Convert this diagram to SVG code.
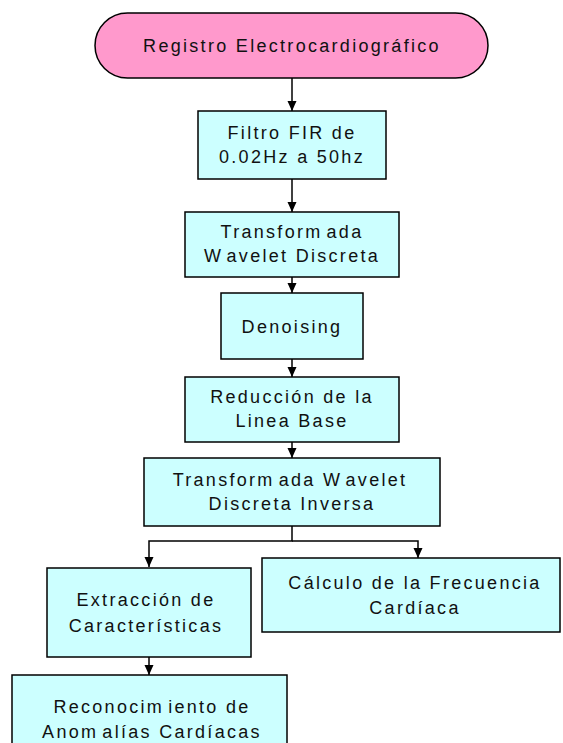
<svg xmlns="http://www.w3.org/2000/svg" width="563" height="743" viewBox="0 0 563 743">
<defs>
<marker id="ah" viewBox="0 0 10 10" refX="10" refY="5" markerWidth="10" markerHeight="10" markerUnits="userSpaceOnUse" orient="auto">
<path d="M0,0.5 L10,5 L0,9.5 Z" fill="#000"/>
</marker>
<style>
.box{fill:#CCFFFF;stroke:#000;stroke-width:1.5}
.pill{fill:#FF99CC;stroke:#000;stroke-width:1.5}
.t{font-family:"Liberation Sans",Arial,sans-serif;font-size:18px;letter-spacing:2.3px;fill:#111;text-anchor:middle}
.c{fill:none;stroke:#000;stroke-width:1.5}
</style>
</defs>
<rect width="563" height="743" fill="#fff"/>
<g id="connectors">
<path class="c" d="M292,78 V111" marker-end="url(#ah)"/>
<path class="c" d="M292,179 V212" marker-end="url(#ah)"/>
<path class="c" d="M292,277 V293" marker-end="url(#ah)"/>
<path class="c" d="M292,359 V377" marker-end="url(#ah)"/>
<path class="c" d="M292,442 V458" marker-end="url(#ah)"/>
<path class="c" d="M292,526 V541 H149 V567" marker-end="url(#ah)"/>
<path class="c" d="M292,541 H418 V558" marker-end="url(#ah)"/>
<path class="c" d="M149,657 V675" marker-end="url(#ah)"/>
</g>
<g id="n0">
<rect class="pill" x="95" y="13" width="393" height="65" rx="32.5"/>
<text class="t" x="292" y="52">Registro Electrocardiográfico</text>
</g>
<g id="n1">
<rect class="box" x="198" y="111" width="188" height="68"/>
<text class="t" x="292" y="139">Filtro FIR de</text>
<text class="t" x="292" y="163">0.02Hz a 50hz</text>
</g>
<g id="n2">
<rect class="box" x="185" y="212" width="214" height="65"/>
<text class="t" x="292" y="238">Transform<tspan dx="4">ada</tspan></text>
<text class="t" x="292" y="262">W<tspan dx="4">avelet Discreta</tspan></text>
</g>
<g id="n3">
<rect class="box" x="221" y="293" width="142" height="66"/>
<text class="t" x="292" y="333">Denoising</text>
</g>
<g id="n4">
<rect class="box" x="185" y="377" width="214" height="65"/>
<text class="t" x="292" y="403">Reducción de la</text>
<text class="t" x="292" y="427">Linea Base</text>
</g>
<g id="n5">
<rect class="box" x="144" y="458" width="296" height="68"/>
<text class="t" x="290" y="486">Transform<tspan dx="4">ada W</tspan><tspan dx="4">avelet</tspan></text>
<text class="t" x="292" y="510">Discreta Inversa</text>
</g>
<g id="n6">
<rect class="box" x="47" y="568" width="204" height="89"/>
<text class="t" x="146" y="606">Extracción de</text>
<text class="t" x="146" y="632">Características</text>
</g>
<g id="n7">
<rect class="box" x="262" y="558" width="298" height="74"/>
<text class="t" x="415" y="589">Cálculo de la Frecuencia</text>
<text class="t" x="415" y="614">Cardíaca</text>
</g>
<g id="n8">
<rect class="box" x="12" y="675" width="275" height="75"/>
<text class="t" x="152" y="713">Reconocim<tspan dx="4">iento de</tspan></text>
<text class="t" x="152" y="738">Anom<tspan dx="4">alías Cardíacas</tspan></text>
</g>
</svg>
